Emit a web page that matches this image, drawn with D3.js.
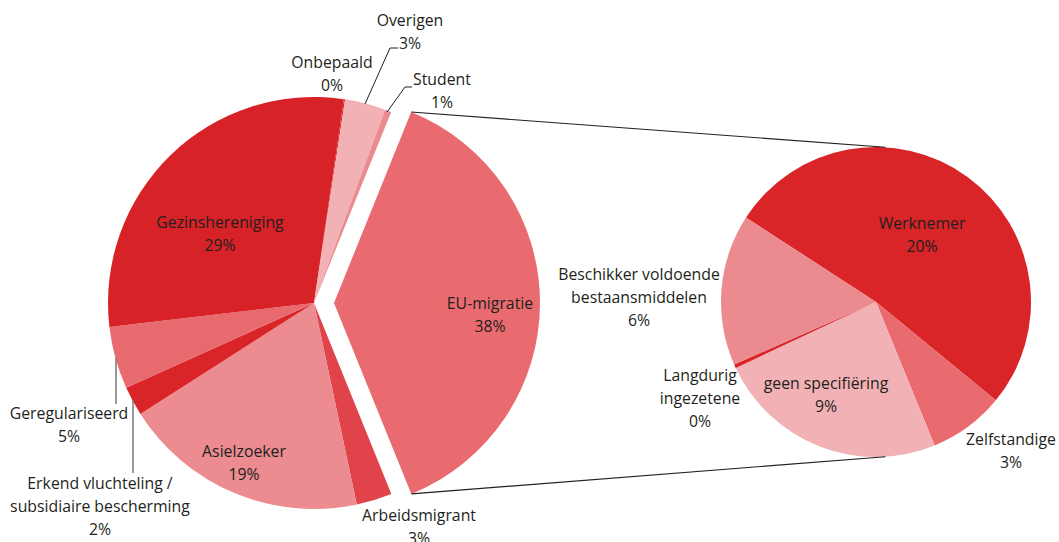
<!DOCTYPE html>
<html><head><meta charset="utf-8">
<script src="https://cdn.jsdelivr.net/npm/d3@7"></script>
<style>
html,body{margin:0;padding:0;background:#fff;}
svg text{font-family:"Open Sans", Lato, sans-serif;font-size:15.8px;fill:#231f20;}
</style></head>
<body><svg id="c" width="1059" height="542"></svg>
<script>
// ---- data ----
const mainCategories = ["EU-migratie","Arbeidsmigrant","Asielzoeker","Erkend vluchteling / subsidiaire bescherming","Geregulariseerd","Gezinshereniging","Onbepaald","Overigen","Student"];
const mainValues = [37.8, 2.8, 19.3, 2.3, 4.9, 29.2, 0.1, 3.2, 0.5];
const mainLabels = ["38%","3%","19%","2%","5%","29%","0%","3%","1%"];
const subCategories = ["Werknemer","Zelfstandige","geen specifiëring","Langdurig ingezetene","Beschikker voldoende bestaansmiddelen"];
const subValues = [19.7, 3.0, 9.2, 0.15, 6.0];
const subLabels = ["20%","3%","9%","0%","6%"];

// ---- styles / layout ----
const mainColors = ["#e96b6f","#e0434a","#ec8b90","#d92428","#e96a6e","#d72327","#d72327","#f2b1b4","#eb8a8f"];
const subColors = ["#d92428","#e96b6f","#f2b1b4","#d92428","#eb8a8f"];
const M = {cx:314, cy:303, r:206, start:22, explode:20};
const S = {cx:876, cy:302, r:155, start:-57};
// label text lines and block-centre positions relative to pie centres
const mainLabelPos = [
  {lines:["EU-migratie"], dx:176, dy:11.5},
  {lines:["Arbeidsmigrant"], dx:105, dy:224},
  {lines:["Asielzoeker"], dx:-70, dy:159.5},
  {lines:["Erkend vluchteling /","subsidiaire bescherming"], dx:-214, dy:203},
  {lines:["Geregulariseerd"], dx:-245, dy:122},
  {lines:["Gezinshereniging"], dx:-94, dy:-69.5},
  {lines:["Onbepaald"], dx:18, dy:-229.5},
  {lines:["Overigen"], dx:96, dy:-271.5},
  {lines:["Student"], dx:128, dy:-212}
];
const subLabelPos = [
  {lines:["Werknemer"], dx:46, dy:-67},
  {lines:["Zelfstandige"], dx:135, dy:148.5},
  {lines:["geen specifiëring"], dx:-50, dy:92.5},
  {lines:["Langdurig","ingezetene"], dx:-176, dy:96},
  {lines:["Beschikker voldoende","bestaansmiddelen"], dx:-237, dy:-5}
];
const rad = d => d*Math.PI/180;

const svg = d3.select("#c");

// ---- main pie ----
const mainPie = d3.pie().sort(null).value(d=>d)
  .startAngle(rad(M.start)).endAngle(rad(M.start)+2*Math.PI);
const mainArcs = mainPie(mainValues);
const arcM = d3.arc().innerRadius(0).outerRadius(M.r);
const gM = svg.append("g").attr("transform",`translate(${M.cx},${M.cy})`);
gM.selectAll("path").data(mainArcs).join("path")
  .attr("d", arcM)
  .attr("fill",(d,i)=>mainColors[i])
  .attr("transform",(d,i)=>{
    if(i!==0) return null;
    const a=(d.startAngle+d.endAngle)/2;
    return `translate(${M.explode*Math.sin(a)},${-M.explode*Math.cos(a)})`;
  });

// ---- sub pie ----
const subPie = d3.pie().sort(null).value(d=>d)
  .startAngle(rad(S.start)).endAngle(rad(S.start)+2*Math.PI);
const subArcs = subPie(subValues);
const arcS = d3.arc().innerRadius(0).outerRadius(S.r);
const gS = svg.append("g").attr("transform",`translate(${S.cx},${S.cy})`);
gS.selectAll("path").data(subArcs).join("path")
  .attr("d", arcS).attr("fill",(d,i)=>subColors[i]);

// ---- connector lines ----
const eu = mainArcs[0];
const ea = (eu.startAngle+eu.endAngle)/2;
const ox = M.cx + M.explode*Math.sin(ea), oy = M.cy - M.explode*Math.cos(ea);
const pt = (cx,cy,r,a)=>[cx+r*Math.sin(a), cy-r*Math.cos(a)];
const p1 = pt(ox,oy,M.r,eu.startAngle), p2 = pt(ox,oy,M.r,eu.endAngle);
const q1 = pt(S.cx,S.cy,S.r,rad(3.5)), q2 = pt(S.cx,S.cy,S.r,rad(176.5));
svg.append("line").attr("x1",p1[0]).attr("y1",p1[1]).attr("x2",q1[0]).attr("y2",q1[1])
  .attr("stroke","#231f20").attr("stroke-width",1.1);
svg.append("line").attr("x1",p2[0]).attr("y1",p2[1]).attr("x2",q2[0]).attr("y2",q2[1])
  .attr("stroke","#231f20").attr("stroke-width",1.1);

// ---- leader lines ----
const leaders = [
  {pts:[[365,104],[390,48],[398,48]], c:"#231f20", w:1},
  {pts:[[387,112],[405,87],[412,87]], c:"#231f20", w:1},
  {pts:[[116,358],[116,404]], c:"#777", w:1.5},
  {pts:[[133,400],[133,473]], c:"#777", w:1.5}
];
svg.selectAll("path.leader").data(leaders).join("path").attr("class","leader")
  .attr("d",d=>d3.line()(d.pts)).attr("fill","none")
  .attr("stroke",d=>d.c).attr("stroke-width",d=>d.w);

// ---- labels ----
function drawLabels(g, pos, labels){
  const lh = 23;
  pos.forEach((p,i)=>{
    const all = p.lines.concat([labels[i]]);
    const t = g.append("text").attr("text-anchor","middle");
    const y0 = p.dy - (all.length-1)*lh/2;
    all.forEach((s,k)=>{
      t.append("tspan").attr("x",p.dx).attr("y",y0+k*lh).attr("dy","0.35em").text(s);
    });
  });
}
drawLabels(gM, mainLabelPos, mainLabels);
drawLabels(gS, subLabelPos, subLabels);
</script></body></html>
